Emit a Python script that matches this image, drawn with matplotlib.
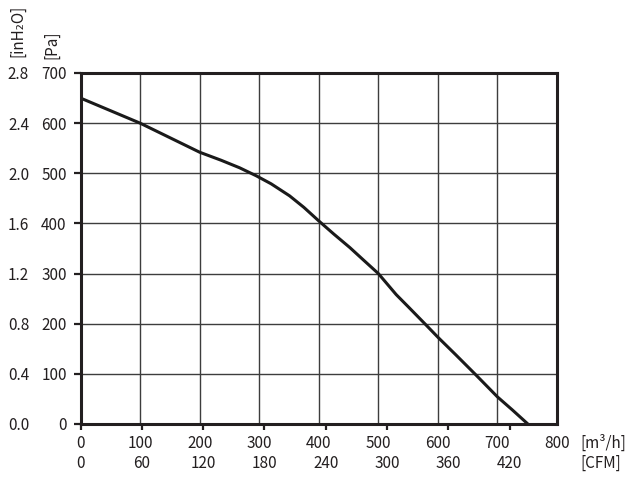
import matplotlib
matplotlib.use("Agg")
import matplotlib.pyplot as plt
import numpy as np

plt.rcParams['font.family'] = ['Noto Sans CJK SC', 'DejaVu Sans']

# ---- data ----
flow_m3h = [0, 50, 100, 150, 200, 236, 267, 295, 320, 351, 375, 400, 425, 452, 475,
            500, 530, 550, 578, 600, 630, 662, 700, 725, 751]
pressure_pa = [650, 625, 600, 571, 542, 526, 511, 495, 479, 455, 432, 405, 379, 352, 327,
               300, 258, 234, 200, 173, 138, 100, 54, 28, 0]

x_ticks_m3h = [0, 100, 200, 300, 400, 500, 600, 700, 800]
x_ticks_cfm = [0, 60, 120, 180, 240, 300, 360, 420]
y_ticks_pa = [0, 100, 200, 300, 400, 500, 600, 700]
y_ticks_inh2o = [0.0, 0.4, 0.8, 1.2, 1.6, 2.0, 2.4, 2.8]

CFM_TO_M3H = 1.715
INH2O_TO_PA = 250.0

TXT = '#231f20'
FS = 11

fig = plt.figure(figsize=(6.32, 4.86), dpi=100)
ax = fig.add_axes([0.1274, 0.1276, 0.7540, 0.7222])

ax.plot(flow_m3h, pressure_pa, color='#1a1a1a', lw=2.2, solid_capstyle='butt',
        solid_joinstyle='round', zorder=3)

ax.set_xlim(0, 800)
ax.set_ylim(0, 700)
ax.set_xticks(x_ticks_m3h)
ax.set_xticklabels([str(v) for v in x_ticks_m3h])
ax.set_yticks(y_ticks_pa)
ax.set_yticklabels([str(v) for v in y_ticks_pa])

ax.grid(True, color='#3d3d3d', lw=1.0, zorder=1)
for s in ax.spines.values():
    s.set_linewidth(2.2)
    s.set_color('#231f20')
    s.set_zorder(4)

ax.tick_params(axis='x', length=0, pad=8, labelsize=FS, colors=TXT)
ax.tick_params(axis='y', direction='out', length=5, width=1.6, pad=5,
               labelsize=FS, colors=TXT)

# secondary CFM axis
secx = ax.secondary_xaxis('bottom', functions=(lambda q: np.asarray(q) / CFM_TO_M3H,
                                                lambda c: np.asarray(c) * CFM_TO_M3H))
secx.set_xticks(x_ticks_cfm)
secx.set_xticklabels([str(v) for v in x_ticks_cfm])
secx.tick_params(axis='x', direction='out', length=4.5, width=1.6, pad=18,
                 labelsize=FS, colors=TXT)
secx.spines['bottom'].set_visible(False)

# secondary inH2O axis
secy = ax.secondary_yaxis('left', functions=(lambda p: np.asarray(p) / INH2O_TO_PA,
                                              lambda h: np.asarray(h) * INH2O_TO_PA))
secy.set_yticks(y_ticks_inh2o)
secy.set_yticklabels([f"{v:.1f}" for v in y_ticks_inh2o])
secy.tick_params(axis='y', length=0, pad=37, labelsize=FS, colors=TXT)
secy.spines['left'].set_visible(False)

# unit labels
fig.text(18 / 632, 1 - 31 / 486, '[inH₂O]', rotation=90, ha='center', va='center',
         fontsize=FS, color=TXT)
fig.text(52 / 632, 1 - 45 / 486, '[Pa]', rotation=90, ha='center', va='center',
         fontsize=FS, color=TXT)
fig.text(580 / 632, 1 - 443 / 486, '[m³/h]', ha='left', va='center',
         fontsize=FS, color=TXT)
fig.text(580 / 632, 1 - 463 / 486, '[CFM]', ha='left', va='center',
         fontsize=FS, color=TXT)

fig.savefig('out.png', dpi=100)
